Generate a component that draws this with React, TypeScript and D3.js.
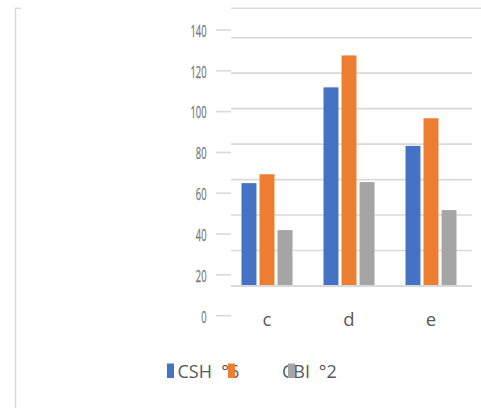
import React from "react";
import * as d3 from "d3";

const categories = ["c", "d", "e"];
const seriesColors = ["#4472C4", "#ED7D31", "#A5A5A5"];
const csh = [58, 112, 79];
const orange = [63, 130, 94.6];
const cbi = [31.5, 58.6, 42.8];
const tickValues = [0, 20, 40, 60, 80, 100, 120, 140];

const W = 481;
const H = 408;

export default function App() {
  const series = [csh, orange, cbi];
  const y = d3.scaleLinear().domain([0, 140]).range([286, 37.7]);
  const yLabel = d3.scaleLinear().domain([0, 140]).range([315.7, 30]);
  const x0 = d3.scaleBand<string>().domain(categories).range([226, 472]);
  const groupW = 51;
  const x1 = d3.scaleBand<number>().domain([0, 1, 2]).range([0, groupW]).paddingInner(0.17);
  const grid = "#D9D9D9";
  const textColor = "#595959";
  const font = "'Open Sans', 'Liberation Sans', sans-serif";

  return (
    <svg width={W} height={H} style={{ position: "absolute", left: 0, top: 0 }}>
      <rect width={W} height={H} fill="#fff" />
      {/* frame fragments */}
      <line x1={15.5} y1={8} x2={15.5} y2={H} stroke={grid} strokeWidth={1.5} />
      <line x1={15} y1={8.3} x2={21} y2={8.3} stroke={grid} strokeWidth={1.5} />
      <line x1={231} y1={8.3} x2={W} y2={8.3} stroke={grid} strokeWidth={1.5} />
      {/* gridlines */}
      {tickValues.map((t) => (
        <line key={"g" + t} x1={231} x2={472} y1={y(t)} y2={y(t)} stroke={grid} strokeWidth={t === 0 ? 2 : 1.6} />
      ))}
      {/* tick dashes and labels */}
      {tickValues.map((t) => (
        <g key={"t" + t}>
          <line x1={216} x2={231} y1={yLabel(t)} y2={yLabel(t)} stroke={grid} strokeWidth={1.6} />
          <text
            transform={`translate(206.5, ${yLabel(t)}) scale(0.55,1)`}
            textAnchor="end"
            dominantBaseline="central"
            fontFamily={font}
            fontSize={17}
            fill="#7a7a7a"
            stroke="#7a7a7a"
            strokeWidth={0.3}
          >
            {t}
          </text>
        </g>
      ))}
      {/* bars */}
      {categories.map((c, i) => {
        const gx = x0(c)! + x0.bandwidth() / 2 - groupW / 2;
        return series.map((s, k) => (
          <rect
            key={c + k}
            x={gx + x1(k)!}
            y={y(s[i])}
            width={x1.bandwidth()}
            height={y(0) - y(s[i]) - 1}
            fill={seriesColors[k]}
          />
        ));
      })}
      {/* category labels */}
      {categories.map((c) => (
        <text
          key={"l" + c}
          x={x0(c)! + x0.bandwidth() / 2}
          y={326}
          textAnchor="middle"
          fontFamily={font}
          fontSize={18.5}
          fill={textColor}
        >
          {c}
        </text>
      ))}
      {/* legend */}
      <text x={177.5} y={378} fontFamily={font} fontSize={18} fill={textColor}>
        CSH<tspan x={216.5}> °6</tspan>
      </text>
      <text x={282} y={378} fontFamily={font} fontSize={18} fill={textColor}>
        CBI<tspan x={314}> °2</tspan>
      </text>
      {[167, 228, 288].map((lx, k) => (
        <rect key={"m" + k} x={lx} y={363.5} width={7} height={14.5} fill={seriesColors[k]} />
      ))}
    </svg>
  );
}
